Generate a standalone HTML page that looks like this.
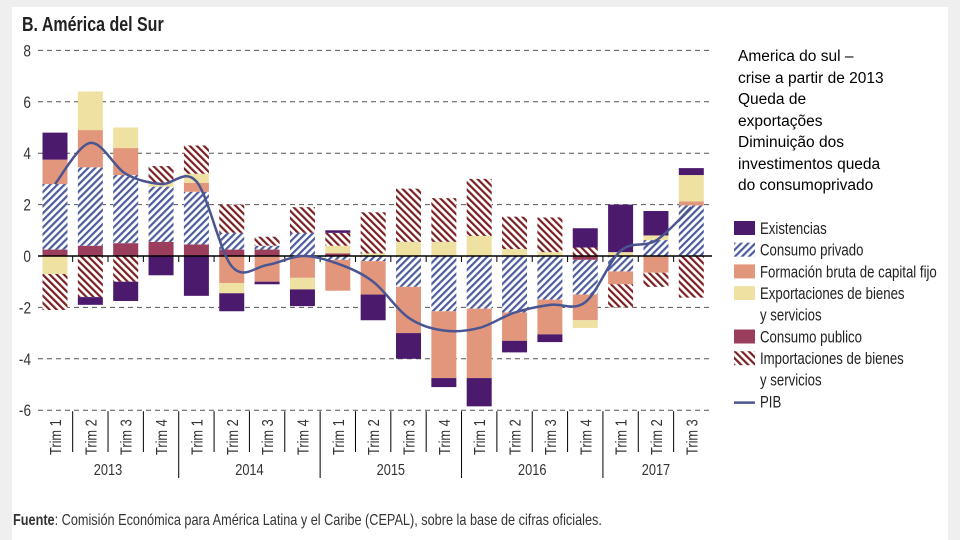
<!DOCTYPE html>
<html><head><meta charset="utf-8">
<style>
body{margin:0;width:960px;height:540px;overflow:hidden;background:#efefef;font-family:"Liberation Sans",sans-serif}
#panel{position:absolute;left:12px;top:7px;width:936px;height:533px;background:#fff}
#note{position:absolute;left:738px;top:46px;font-size:15.5px;line-height:21.5px;color:#000}
svg{position:absolute;left:0;top:0}
</style></head><body>
<div id="panel"></div>
<svg id="chart" width="960" height="540">
<defs>
<pattern id="hPriv" patternUnits="userSpaceOnUse" width="5" height="5" patternTransform="rotate(45)"><rect width="5" height="5" fill="#fff"/><rect width="2.2" height="5" fill="#4d5c9c"/></pattern>
<pattern id="hImp" patternUnits="userSpaceOnUse" width="5" height="5" patternTransform="rotate(-45)"><rect width="5" height="5" fill="#fff"/><rect width="2.2" height="5" fill="#7a1f22"/></pattern>
</defs>
</svg>
<div id="note">America do sul –<br>crise a partir de 2013<br>Queda de<br>exportações<br>Diminuição dos<br>investimentos queda<br>do consumoprivado</div>
<script>
const quarters=["Trim 1","Trim 2","Trim 3","Trim 4","Trim 1","Trim 2","Trim 3","Trim 4","Trim 1","Trim 2","Trim 3","Trim 4","Trim 1","Trim 2","Trim 3","Trim 4","Trim 1","Trim 2","Trim 3"];
const years=["2013","2014","2015","2016","2017"];
const yTicks=[8,6,4,2,0,-2,-4,-6];
const pub=[0.25,0.4,0.5,0.55,0.45,0.25,0.25,0,0.1,0,0,0,0,0,0,-0.15,0,0,0];
const priv=[2.55,3.05,2.65,2.15,2.05,0.65,0.15,0.9,-0.15,-0.2,-1.2,-2.15,-2.05,-2.2,-1.7,-1.35,-0.6,0.62,1.97];
const form=[0.95,1.45,1.05,0,0.35,-1.05,-1.0,-0.85,-1.2,-1.3,-1.8,-2.6,-2.7,-1.1,-1.35,-1.0,-0.5,-0.65,0.15];
const expo=[-0.7,1.5,0.8,0.15,0.35,-0.4,0,-0.45,0.3,0.1,0.55,0.55,0.78,0.27,0.15,-0.3,0.15,0.18,1.03];
const imp=[-1.4,-1.6,-1.0,0.65,1.1,1.1,0.35,1.0,0.5,1.6,2.07,1.7,2.22,1.26,1.35,0.33,-0.9,-0.55,-1.62];
const exist=[1.05,-0.3,-0.75,-0.75,-1.55,-0.7,-0.1,-0.65,0.1,-1.0,-1.0,-0.35,-1.1,-0.45,-0.3,0.75,1.85,0.95,0.27];
const pib=[2.8,4.4,3.2,2.8,2.9,-0.4,-0.35,0,-0.3,-1.0,-2.4,-2.9,-2.8,-2.2,-1.9,-1.8,0.2,0.6,1.9];
const S='http://www.w3.org/2000/svg';
const svg=document.getElementById('chart');
const X=i=>55+35.35*i, Y=v=>256-25.7*v, BW=25;
function mk(t,a,p){const e=document.createElementNS(S,t);for(const k in a)e.setAttribute(k,a[k]);(p||svg).appendChild(e);return e;}
function txt(x,y,s,size,extra,p,rot){const tr=`translate(${x},${y})`+(rot?' rotate(-90)':'')+' scale(0.8,1)';const a=Object.assign({x:0,y:0,'font-size':size,fill:'#333',transform:tr},extra||{});const e=mk('text',a,p);e.textContent=s;return e;}
// title
let t=txt(22,31,'B. América del Sur',20,{'font-weight':'bold',fill:'#222'});


// grid and y labels
yTicks.forEach(v=>{
 if(v!==0){const g=mk('line',{x1:38,x2:712,y1:Y(v),y2:Y(v),stroke:'#555','stroke-width':1,'stroke-dasharray':'5,4'});
 
 }
 const l=txt(31,Y(v)+6,String(v),17,{'text-anchor':'end'});
 
 
});
// bars
const series=[['consumo-publico',pub,'#9b3d5d'],['consumo-privado',priv,'url(#hPriv)'],['formacion-bruta',form,'#e2977c'],['exportaciones',expo,'#efe1a2'],['importaciones',imp,'url(#hImp)'],['existencias',exist,'#4b1a6c']];
quarters.forEach((q,i)=>{
 let pos=0,neg=0;
 series.forEach(([n,arr,c])=>{
  const v=arr[i]; if(!v)return;
  let y0,y1;
  if(v>0){y0=pos;y1=pos+v;pos=y1;}else{y0=neg;y1=neg+v;neg=y1;}
  const r=mk('rect',{x:X(i)-BW/2,y:Math.min(Y(y0),Y(y1)),width:BW,height:Math.abs(Y(y1)-Y(y0)),fill:c});
  
  
 });
});
// zero axis
let ax=mk('line',{x1:38,x2:712,y1:Y(0),y2:Y(0),stroke:'#000','stroke-width':1.5});


// separators and ticks
for(let i=1;i<quarters.length;i++){
 const x=(X(i-1)+X(i))/2, yr=i%4===0;
 mk('line',{x1:x,x2:x,y1:Y(0),y2:Y(0)+6,stroke:'#000'});
 const s=mk('line',{x1:x,x2:x,y1:Y(-6)+1,y2:yr?478:452,stroke:'#000'});
 
 
}
// quarter labels
quarters.forEach((q,i)=>{
 const l=txt(X(i)+6,455,q,16,{},null,true);
 
 
});
years.forEach((y,k)=>{
 const n=k<4?4:3, c=(X(4*k)+X(4*k+n-1))/2;
 const l=txt(c,475,y,16,{'text-anchor':'middle'});
 
 
});
// PIB smooth line (catmull-rom)
const P=pib.map((v,i)=>[X(i),Y(v)]);
let d='M'+P[0];
for(let i=0;i<P.length-1;i++){
 const p0=P[i-1]||P[i],p1=P[i],p2=P[i+1],p3=P[i+2]||p2;
 d+=` C${p1[0]+(p2[0]-p0[0])/6},${p1[1]+(p2[1]-p0[1])/6} ${p2[0]-(p3[0]-p1[0])/6},${p2[1]-(p3[1]-p1[1])/6} ${p2[0]},${p2[1]}`;
}
const ln=mk('path',{d:d,fill:'none',stroke:'#4a5591','stroke-width':2.5});


// legend
const leg=[['Existencias','#4b1a6c'],['Consumo privado','url(#hPriv)'],['Formación bruta de capital fijo','#e2977c'],['Exportaciones de bienes|y servicios','#efe1a2'],['Consumo publico','#9b3d5d'],['Importaciones de bienes|y servicios','url(#hImp)'],['PIB','line']];
let ly=228;
leg.forEach(([s,c])=>{
 const g=mk('g',{});
 
 
 if(c==='line')mk('line',{x1:734,x2:755,y1:ly+1,y2:ly+1,stroke:'#4a5591','stroke-width':2.5},g);
 else mk('rect',{x:734,y:ly-7,width:21,height:14,fill:c},g);
 const parts=s.split('|');
 parts.forEach((p,j)=>{txt(760,ly+6+j*21.5,p,16.5,{fill:'#222'},g);});
 ly+=21.7*parts.length;
});
// source
const src=mk('text',{x:0,y:0,'font-size':15.5,fill:'#333',transform:'translate(13,525) scale(0.82,1)'});
src.innerHTML='<tspan font-weight="bold">Fuente</tspan>: Comisión Económica para América Latina y el Caribe (CEPAL), sobre la base de cifras oficiales.';


</script>
</body></html>
